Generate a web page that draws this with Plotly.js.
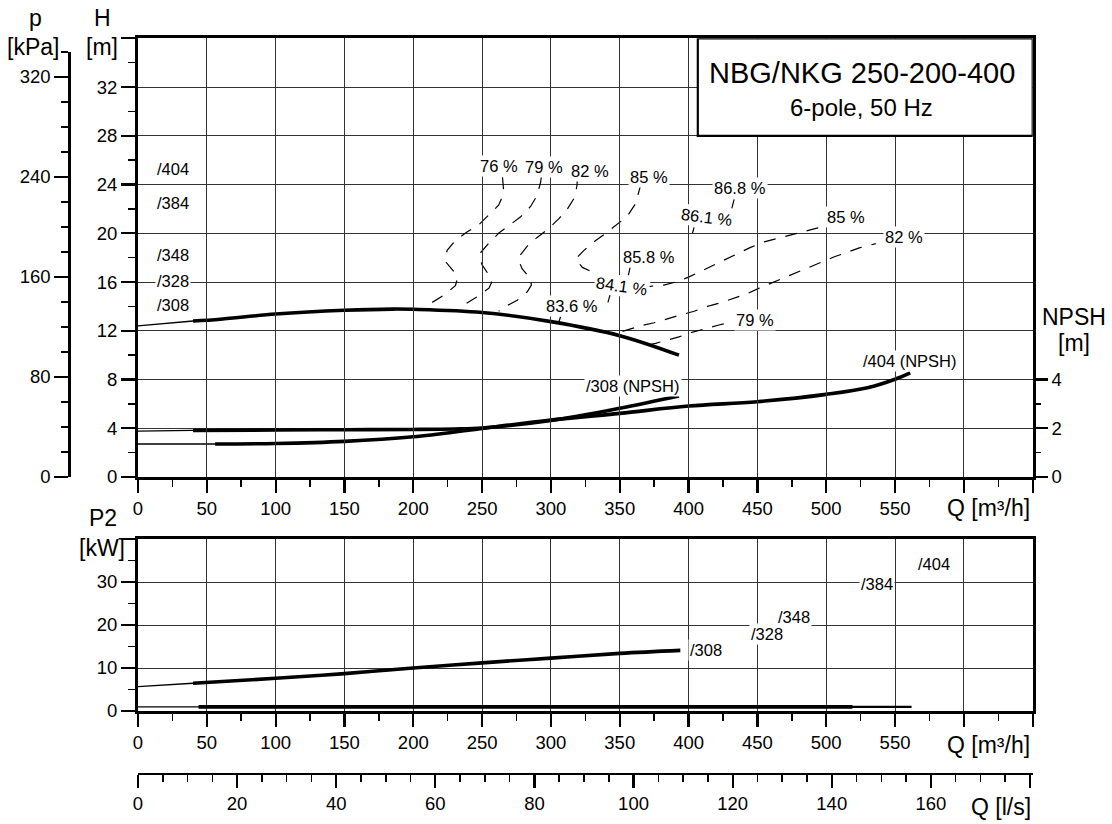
<!DOCTYPE html>
<html><head><meta charset="utf-8">
<script src="https://cdn.plot.ly/plotly-3.0.1.min.js"></script>
<style>html,body{margin:0;padding:0;background:#fff}#chart{width:1112px;height:824px}</style>
</head><body><div id="chart"></div>
<script>
// ---------- axis ticks ----------
const qTicks = [0,50,100,150,200,250,300,350,400,450,500,550,600,650];
const qTickText = ['0','50','100','150','200','250','300','350','400','450','500','550','',''];
const hTicks = [0,4,8,12,16,20,24,28,32,36];
const hTickText = ['0','4','8','12','16','20','24','28','32',''];
const pTicks = [0,80,160,240,320];
const pTickText = ['0','80','160','240','320'];
const npshTicks = [0,2,4];
const npshTickText = ['0','2','4'];
const p2Ticks = [0,10,20,30,40];
const p2TickText = ['0','10','20','30',''];
const lsTicks = [0,20,40,60,80,100,120,140,160,180];
const lsTickText = ['0','20','40','60','80','100','120','140','160',''];

// ---------- head curve /308 ----------
const h308ThinQ = [0, 40];
const h308Thin  = [12.4, 12.8];
const h308Q = [40, 60, 100, 150, 185, 200, 250, 300, 350, 393];
const h308  = [12.8, 12.95, 13.37, 13.68, 13.78, 13.76, 13.5, 12.75, 11.6, 10.0];

// ---------- NPSH curves (m) ----------
const npsh308ThinQ = [0, 40];
const npsh308Thin  = [1.885, 1.91];
const npsh308Q = [40, 100, 150, 200, 230, 250, 300, 350, 393];
const npsh308  = [1.91, 1.93, 1.94, 1.95, 1.97, 2.01, 2.32, 2.82, 3.32];
const npsh404ThinQ = [0, 56];
const npsh404Thin  = [1.355, 1.355];
const npsh404Q = [56, 100, 150, 200, 240, 250, 300, 350, 400, 450, 500, 530, 550, 561];
const npsh404  = [1.355, 1.375, 1.46, 1.65, 1.92, 1.99, 2.34, 2.61, 2.91, 3.09, 3.39, 3.66, 4.01, 4.27];

// ---------- efficiency contours (Q m3/h, H m) ----------
const eff76Q = [264.8, 265.8, 262, 255, 247.6, 239, 230.6, 224.6, 223.5, 224, 230.6, 231.9, 230.6, 222, 213, 209];
const eff76H = [24.6, 23.3, 22.3, 21.5, 20.7, 20.1, 19.4, 18.6, 18.1, 17.6, 16.7, 16.2, 15.7, 14.9, 14.25, 14.0];
const eff79Q = [293, 292.5, 290, 285.2, 278, 270.6, 262, 255, 248.8, 248.5, 250, 256, 256.8, 255, 246.4, 238, 234];
const eff79H = [24.6, 24.2, 23.1, 22.2, 21.35, 20.7, 20.0, 19.2, 18.4, 17.9, 17.4, 16.4, 15.95, 15.5, 14.8, 14.2, 13.9];
const eff82Q = [319.2, 319, 317.5, 312, 305.8, 298.5, 290, 282.8, 276.7, 277.2, 279, 285, 285.8, 282.8, 275.5, 267, 262];
const eff82H = [24.6, 24.0, 23.0, 22.0, 21.2, 20.4, 19.66, 18.95, 18.07, 17.6, 17.1, 16.3, 15.75, 15.2, 14.5, 14.0, 13.6];
const eff85Q = [365.5, 364, 361.6, 355.5, 348, 339.8, 332.5, 324, 318, 320.4, 322.8, 332.5, 345, 358, 372, 382, 390.7, 400, 409, 418.5, 427, 435.6, 445, 455, 464.7, 474.4, 484, 492.5, 497];
const eff85H = [24.1, 23.4, 22.45, 21.4, 20.7, 20.0, 19.4, 18.6, 17.9, 17.53, 17.2, 16.7, 16.15, 15.8, 15.65, 15.75, 16.0, 16.4, 16.9, 17.4, 17.86, 18.35, 18.84, 19.3, 19.6, 19.9, 20.2, 20.4, 20.5];
const eff82RQ = [352, 365.2, 375, 384.6, 394.3, 404, 413.7, 423.4, 432, 441.6, 451.3, 459.8, 469.5, 478, 487.7, 496.2, 505.9, 514.4, 524, 536];
const eff82RH = [11.95, 12.4, 12.66, 13.0, 13.3, 13.6, 14.0, 14.3, 14.6, 15.0, 15.5, 15.9, 16.4, 16.76, 17.25, 17.6, 18.07, 18.4, 18.8, 19.15];
const eff79RQ = [371, 376, 384.6, 393, 401.6, 412.5, 422, 427];
const eff79RH = [10.85, 10.97, 11.24, 11.5, 11.84, 12.2, 12.47, 12.6];

// best-efficiency leader ticks
const bepTickQ = [307, 305.8, null, 342.9, 341.4, null, 357.5, 356.3, null, 404, 402.8, null, 433.1, 431.4];
const bepTickH = [13.15, 12.74, null, 14.93, 14.33, null, 17.2, 16.57, null, 20.48, 20.0, null, 22.78, 22.04];

// ---------- efficiency labels ----------
const effLabelText  = ['76 %','79 %','82 %','85 %','86.8 %','86.1 %','85 %','82 %','85.8 %','84.1 %','83.6 %','79 %'];
const effLabelQ     = [262.4, 294.9, 328.1, 371, 437.3, 413.1, 514.4, 556.8, 371.5, 351.6, 315, 448.4];
const effLabelH     = [25.5, 25.4, 25.1, 24.6, 23.7, 21.35, 21.3, 19.7, 18.05, 15.7, 14.0, 12.9];
const effLabelAngle = [0, 0, 0, 0, 0, 7, 0, 0, 0, 8, 0, 0];

// ---------- impeller labels ----------
const trimText = ['/404','/384','/348','/328','/308'];
const trimQ = [25.5, 25.5, 25.5, 25.5, 25.5];
const trimH = [25.3, 22.5, 18.2, 16.08, 14.1];

// ---------- power P2 ----------
const p2_308ThinQ = [0, 40];
const p2_308Thin  = [5.65, 6.45];
const p2_308Q = [40, 100, 150, 200, 250, 300, 350, 394];
const p2_308  = [6.45, 7.6, 8.7, 10.0, 11.2, 12.3, 13.4, 14.1];
const p2BaseThinQ = [0, 44];
const p2BaseThin  = [0.94, 0.94];
const p2BaseAQ = [44, 519];
const p2BaseA  = [0.94, 0.94];
const p2BaseBQ = [44, 562];
const p2BaseB  = [0.97, 0.97];
const p2LabelText = ['/404','/384','/348','/328','/308'];
const p2LabelQ = [578.4, 537.2, 476.8, 456.7, 412.8];
const p2LabelP = [34.3, 29.5, 21.8, 17.9, 14.1];

// ---------- geometry ----------
const FONT = 'Liberation Sans, Arial, Helvetica, sans-serif';
const xDom = [138/1112, 1032.7/1112];
const yHDom = [347/824, 785.7/824];
const yPDom = [347/824, 772/824];
const y2Dom = [113/824, 285/824];

function line(x, y, xa, ya, w, dash, shape) {
  return {x: x, y: y, xaxis: xa, yaxis: ya, type: 'scatter', mode: 'lines',
    line: {color: '#000', width: w, dash: dash || 'solid', shape: shape || 'linear', smoothing: 1},
    hoverinfo: 'skip', showlegend: false};
}
const DASH = '12px,10px';
const traces = [
  line(h308ThinQ, h308Thin, 'x', 'y', 1.3),
  line(h308Q, h308, 'x', 'y', 3.6, null, 'spline'),
  line(npsh308ThinQ, npsh308Thin, 'x', 'y3', 1.3),
  line(npsh404ThinQ, npsh404Thin, 'x', 'y3', 1.3),
  line(npsh308Q, npsh308, 'x', 'y3', 3.6, null, 'spline'),
  line(npsh404Q, npsh404, 'x', 'y3', 3.6, null, 'spline'),
  line(eff76Q, eff76H, 'x', 'y', 1.2, DASH),
  line(eff79Q, eff79H, 'x', 'y', 1.2, DASH),
  line(eff82Q, eff82H, 'x', 'y', 1.2, DASH),
  line(eff85Q, eff85H, 'x', 'y', 1.2, DASH),
  line(eff82RQ, eff82RH, 'x', 'y', 1.2, DASH),
  line(eff79RQ, eff79RH, 'x', 'y', 1.2, DASH),
  line(bepTickQ, bepTickH, 'x', 'y', 1.2),
  line(p2_308ThinQ, p2_308Thin, 'x2', 'y2', 1.3),
  line(p2_308Q, p2_308, 'x2', 'y2', 3.6, null, 'spline'),
  line(p2BaseThinQ, p2BaseThin, 'x2', 'y2', 1.3),
  line(p2BaseBQ, p2BaseB, 'x2', 'y2', 2.4),
  line(p2BaseAQ, p2BaseA, 'x2', 'y2', 3.8),
  {x: [0], y: [0], xaxis: 'x', yaxis: 'y4', type: 'scatter', mode: 'markers', marker: {opacity: 0}, hoverinfo: 'skip', showlegend: false},
  {x: [0], y: [0], xaxis: 'x3', yaxis: 'y2', type: 'scatter', mode: 'markers', marker: {opacity: 0}, hoverinfo: 'skip', showlegend: false}
];

const tickFont = {family: FONT, size: 18.5, color: '#000'};
const common = {
  ticks: 'outside', tickcolor: '#000', tickwidth: 2.2, tickfont: tickFont,
  zeroline: false, linecolor: '#000', fixedrange: true
};
function minor(opts) {
  return Object.assign({ticks: 'outside', ticklen: 7, tickwidth: 1.5, tickcolor: '#000', showgrid: false}, opts);
}
const GRID = '#333';

const annotations = [];
function ann(text, x, y, xref, yref, size, extra) {
  annotations.push(Object.assign({text: text, x: x, y: y, xref: xref, yref: yref, showarrow: false,
    xanchor: 'center', yanchor: 'middle', font: {family: FONT, size: size, color: '#000'}}, extra || {}));
}
effLabelText.forEach((t, i) => ann(t, effLabelQ[i], effLabelH[i], 'x', 'y', 16.5,
  {bgcolor: '#fff', borderpad: 1, textangle: effLabelAngle[i]}));
trimText.forEach((t, i) => ann(t, trimQ[i], trimH[i], 'x', 'y', 16.5, {bgcolor: '#fff', borderpad: 1}));
p2LabelText.forEach((t, i) => ann(t, p2LabelQ[i], p2LabelP[i], 'x2', 'y2', 16.5, {bgcolor: '#fff', borderpad: 1}));
ann('/308 (NPSH)', 359.4, 3.73, 'x', 'y3', 16.5, {bgcolor: '#fff', borderpad: 1});
ann('/404 (NPSH)', 560.8, 4.76, 'x', 'y3', 16.5, {bgcolor: '#fff', borderpad: 1});
ann('NBG/NKG 250-200-400', 526.3, 33.13, 'x', 'y', 29);
ann('6-pole, 50 Hz', 525.5, 30.34, 'x', 'y', 24);
const TT = 23;
ann('p', 35/1112, 1-18/824, 'paper', 'paper', TT);
ann('[kPa]', 32.5/1112, 1-46.7/824, 'paper', 'paper', TT);
ann('H', 102.5/1112, 1-18/824, 'paper', 'paper', TT);
ann('[m]', 101.7/1112, 1-46.7/824, 'paper', 'paper', TT);
ann('NPSH', 1074/1112, 1-316.7/824, 'paper', 'paper', TT);
ann('[m]', 1074/1112, 1-343.3/824, 'paper', 'paper', TT);
ann('Q [m³/h]', 988.5/1112, 1-508/824, 'paper', 'paper', TT);
ann('P2', 102.7/1112, 1-518.3/824, 'paper', 'paper', TT);
ann('[kW]', 102/1112, 1-548.3/824, 'paper', 'paper', TT);
ann('Q [m³/h]', 988.3/1112, 1-745/824, 'paper', 'paper', TT);
ann('Q [l/s]', 1000.8/1112, 1-806.7/824, 'paper', 'paper', TT);

const layout = {
  width: 1112, height: 824, margin: {l: 0, r: 0, t: 0, b: 0},
  paper_bgcolor: '#fff', plot_bgcolor: 'rgba(0,0,0,0)', showlegend: false,
  font: {family: FONT, color: '#000'},
  xaxis: Object.assign({}, common, {
    domain: xDom, range: [0, 650], anchor: 'y', tickmode: 'array', tickvals: qTicks, ticktext: qTickText,
    ticklen: 13, showline: true, linewidth: 3, mirror: true,
    showgrid: true, gridcolor: GRID, gridwidth: 1,
    minor: minor({tickmode: 'linear', tick0: 0, dtick: 25})
  }),
  yaxis: Object.assign({}, common, {
    domain: yHDom, range: [0, 36], anchor: 'x', tickmode: 'array', tickvals: hTicks, ticktext: hTickText,
    ticklen: 14, showline: true, linewidth: 3, mirror: true,
    showgrid: true, gridcolor: GRID, gridwidth: 1,
    minor: minor({tickmode: 'linear', tick0: 0, dtick: 2})
  }),
  yaxis3: Object.assign({}, common, {
    overlaying: 'y', side: 'right', anchor: 'x', range: [0, 18], tickmode: 'array',
    tickvals: npshTicks, ticktext: npshTickText, ticklen: 14, showline: false, showgrid: false,
    minor: minor({tickmode: 'array', tickvals: [1, 3]})
  }),
  yaxis4: Object.assign({}, common, {
    domain: yPDom, anchor: 'free', position: 69.3/1112, side: 'left', range: [0, 340],
    tickmode: 'array', tickvals: pTicks, ticktext: pTickText, ticklen: 14,
    showline: true, linewidth: 2.5, showgrid: false,
    minor: minor({tickmode: 'linear', tick0: 0, dtick: 20})
  }),
  xaxis2: Object.assign({}, common, {
    domain: xDom, range: [0, 650], anchor: 'y2', tickmode: 'array', tickvals: qTicks, ticktext: qTickText,
    ticklen: 13, showline: true, linewidth: 3, mirror: true,
    showgrid: true, gridcolor: GRID, gridwidth: 1,
    minor: minor({tickmode: 'linear', tick0: 0, dtick: 25})
  }),
  yaxis2: Object.assign({}, common, {
    domain: y2Dom, range: [0, 40], anchor: 'x2', tickmode: 'array', tickvals: p2Ticks, ticktext: p2TickText,
    ticklen: 14, showline: true, linewidth: 3, mirror: true,
    showgrid: true, gridcolor: GRID, gridwidth: 1,
    minor: minor({tickmode: 'linear', tick0: 0, dtick: 5})
  }),
  xaxis3: Object.assign({}, common, {
    overlaying: 'x2', anchor: 'free', position: 50/824, side: 'bottom', range: [0, 650/3.6],
    tickmode: 'array', tickvals: lsTicks, ticktext: lsTickText, ticklen: 13,
    showline: true, linewidth: 2, showgrid: false,
    minor: minor({tickmode: 'linear', tick0: 0, dtick: 5})
  }),
  shapes: [{type: 'rect', xref: 'x', yref: 'y', x0: 406.7, x1: 650, y0: 28, y1: 36,
    fillcolor: '#fff', line: {color: '#000', width: 2.2}, layer: 'above'}],
  annotations: annotations
};

Plotly.newPlot('chart', traces, layout, {staticPlot: true, displayModeBar: false});
</script></body></html>
